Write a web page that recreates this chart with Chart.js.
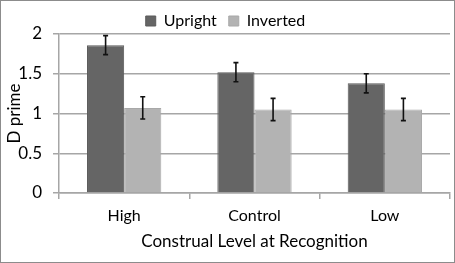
<!DOCTYPE html>
<html>
<head>
<meta charset="utf-8">
<script src="https://cdn.jsdelivr.net/npm/chart.js@4.4.0/dist/chart.umd.min.js"></script>
<style>
    html, body { margin: 0; padding: 0; background: #fff; }
    #wrap {
        width: 455px; height: 263px;
        box-sizing: border-box;
        border: 1px solid #8c8c8c;
        position: relative;
    }
</style>
</head>
<body>
<div id="wrap"><canvas id="chart"></canvas></div>
<script>
// Données
const categories = ['High', 'Control', 'Low'];
const uprightValues = [1.86, 1.52, 1.38];
const uprightErrors = [0.12, 0.12, 0.12];
const invertedValues = [1.07, 1.05, 1.05];
const invertedErrors = [0.14, 0.14, 0.14];
const yTicks = [0, 0.5, 1, 1.5, 2];

const FONT = 'Lato, "Open Sans", sans-serif';
const GRID = '#a6a6a6';

// Barres d'erreur dessinées via les échelles
const errorBarsPlugin = {
    id: 'errorBars',
    afterDatasetsDraw(chart) {
        const ctx = chart.ctx;
        const yScale = chart.scales.y;
        ctx.save();
        ctx.strokeStyle = '#111';
        ctx.lineWidth = 1.6;
        chart.data.datasets.forEach((ds, i) => {
            const meta = chart.getDatasetMeta(i);
            meta.data.forEach((bar, j) => {
                const v = ds.data[j];
                const e = ds.errors[j];
                const top = yScale.getPixelForValue(v + e);
                const bottom = yScale.getPixelForValue(v - e);
                const x = bar.x;
                ctx.beginPath();
                ctx.moveTo(x, top); ctx.lineTo(x, bottom);
                ctx.moveTo(x - 2.5, top); ctx.lineTo(x + 2.5, top);
                ctx.moveTo(x - 2.5, bottom); ctx.lineTo(x + 2.5, bottom);
                ctx.stroke();
            });
        });
        ctx.restore();
    }
};

// Hauteur fixe de la légende pour caler la zone de tracé
const legendHeightPlugin = {
    id: 'legendHeight',
    beforeInit(chart) {
        const origFit = chart.legend.fit;
        chart.legend.fit = function () {
            origFit.bind(chart.legend)();
            this.height = 33;
        };
    }
};

new Chart(document.getElementById('chart'), {
    type: 'bar',
    data: {
        labels: categories,
        datasets: [{
            label: 'Upright',
            data: uprightValues,
            errors: uprightErrors,
            backgroundColor: '#656565',
            borderColor: '#5a5a5a',
            borderWidth: 1
        }, {
            label: 'Inverted',
            data: invertedValues,
            errors: invertedErrors,
            backgroundColor: '#b3b3b3',
            borderColor: '#a8a8a8',
            borderWidth: 1
        }]
    },
    options: {
        responsive: true,
        maintainAspectRatio: false,
        animation: false,
        layout: { padding: { left: 0, right: 4, top: 0, bottom: 0 } },
        datasets: { bar: { categoryPercentage: 0.57, barPercentage: 1 } },
        plugins: {
            tooltip: { enabled: false },
            legend: {
                position: 'top',
                labels: {
                    font: { family: FONT, size: 16 },
                    color: '#000',
                    boxWidth: 10,
                    boxHeight: 10,
                    padding: 12
                }
            }
        },
        scales: {
            x: {
                grid: { drawOnChartArea: false, drawTicks: true, tickLength: 6, color: GRID, lineWidth: 1.5 },
                border: { color: GRID, width: 1.5 },
                ticks: { font: { family: FONT, size: 16 }, color: '#000', padding: 7 },
                title: {
                    display: true,
                    text: 'Construal Level at Recognition',
                    font: { family: FONT, size: 17 },
                    color: '#000',
                    padding: { top: 0, bottom: 10 }
                },
                afterFit(scale) { scale.height = 69; }
            },
            y: {
                min: 0, max: 2,
                grid: { color: GRID, lineWidth: 1.5, tickLength: 6 },
                border: { color: GRID, width: 1.5 },
                afterBuildTicks(scale) { scale.ticks = yTicks.map(v => ({ value: v })); },
                ticks: {
                    font: { family: FONT, size: 17 },
                    color: '#000',
                    padding: 11,
                    callback: v => String(v)
                },
                title: {
                    display: true,
                    text: 'D prime',
                    font: { family: FONT, size: 17 },
                    color: '#000',
                    padding: { top: 3, bottom: 0 }
                },
                afterFit(scale) { scale.width = 58; }
            }
        }
    },
    plugins: [errorBarsPlugin, legendHeightPlugin]
});
</script>
</body>
</html>
